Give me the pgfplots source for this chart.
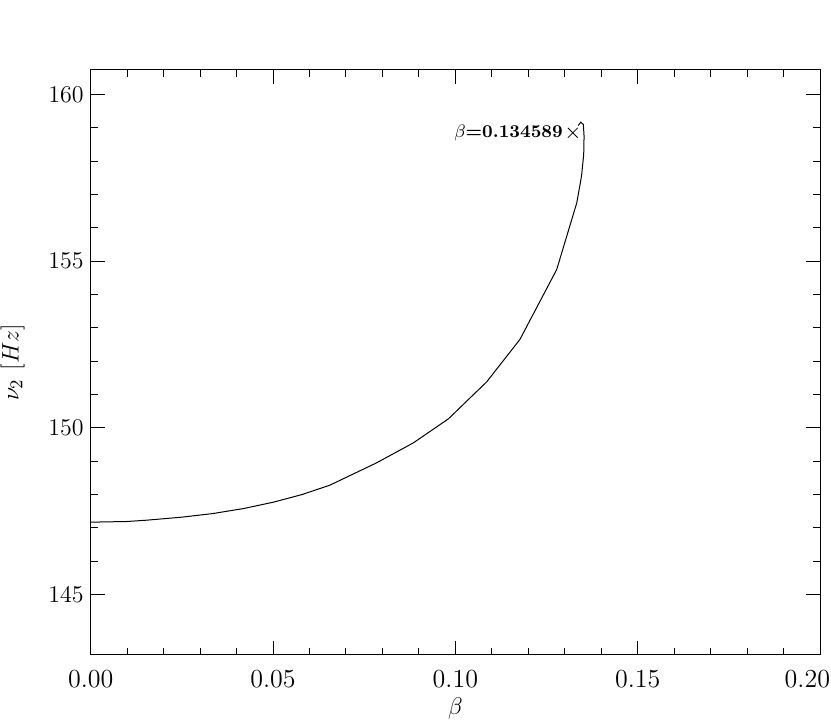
\documentclass[border=0pt]{standalone}
\usepackage{pgfplots}
\pgfplotsset{compat=1.18}
\begin{document}
\begin{tikzpicture}
\path[use as bounding box] (-45.35pt,-34pt) rectangle (370.15pt,327.5pt);
\begin{axis}[
  scale only axis, width=364.65pt, height=292.5pt,
  xmin=0, xmax=0.2, ymin=143.185, ymax=160.735,
  xtick={0,0.05,0.1,0.15,0.2},
  xticklabels={0.00,0.05,0.10,0.15,{\hspace*{10pt}\llap{0.20}}},
  ytick={145,150,155,160},
  minor x tick num=4, minor y tick num=4,
  tick align=inside, major tick length=7pt, minor tick length=3.5pt,
  every tick/.append style={black, line width=0.5pt},
  axis line style={line width=0.5pt},
  xticklabel style={yshift=-4.3pt},
  tick label style={font=\fontsize{13}{15}\selectfont},
  label style={font=\fontsize{13}{15}\selectfont},
  xlabel={$\beta$}, ylabel={$\nu_2$ $[Hz]$},
  xlabel style={at={(axis description cs:0.5,-0.0923)}, anchor=center},
  ylabel style={at={(axis description cs:-0.107,0.5)}, anchor=center},
]
\addplot[black, line width=0.5pt] coordinates {
(0,147.17) (0.010,147.19) (0.0154,147.23) (0.025,147.32) (0.0336,147.43)
(0.0420,147.58) (0.0501,147.77) (0.0580,148.00) (0.0656,148.28)
(0.0784,148.95) (0.0885,149.55) (0.0981,150.27) (0.1086,151.38)
(0.1177,152.65) (0.1278,154.75) (0.1333,156.75) (0.1346,157.55)
(0.1352,158.2) (0.1353,158.75) (0.1351,159.1) (0.1344,159.17) (0.1337,159.07)
};
\addplot[only marks, mark=x, mark size=3.5pt, black] coordinates {(0.1322,158.85)};
\node[anchor=west, font=\bfseries\fontsize{9}{11}\selectfont, inner sep=0pt] at (axis cs:0.0996,158.85) {$\beta$=0.134589};
\end{axis}
\end{tikzpicture}
\end{document}
